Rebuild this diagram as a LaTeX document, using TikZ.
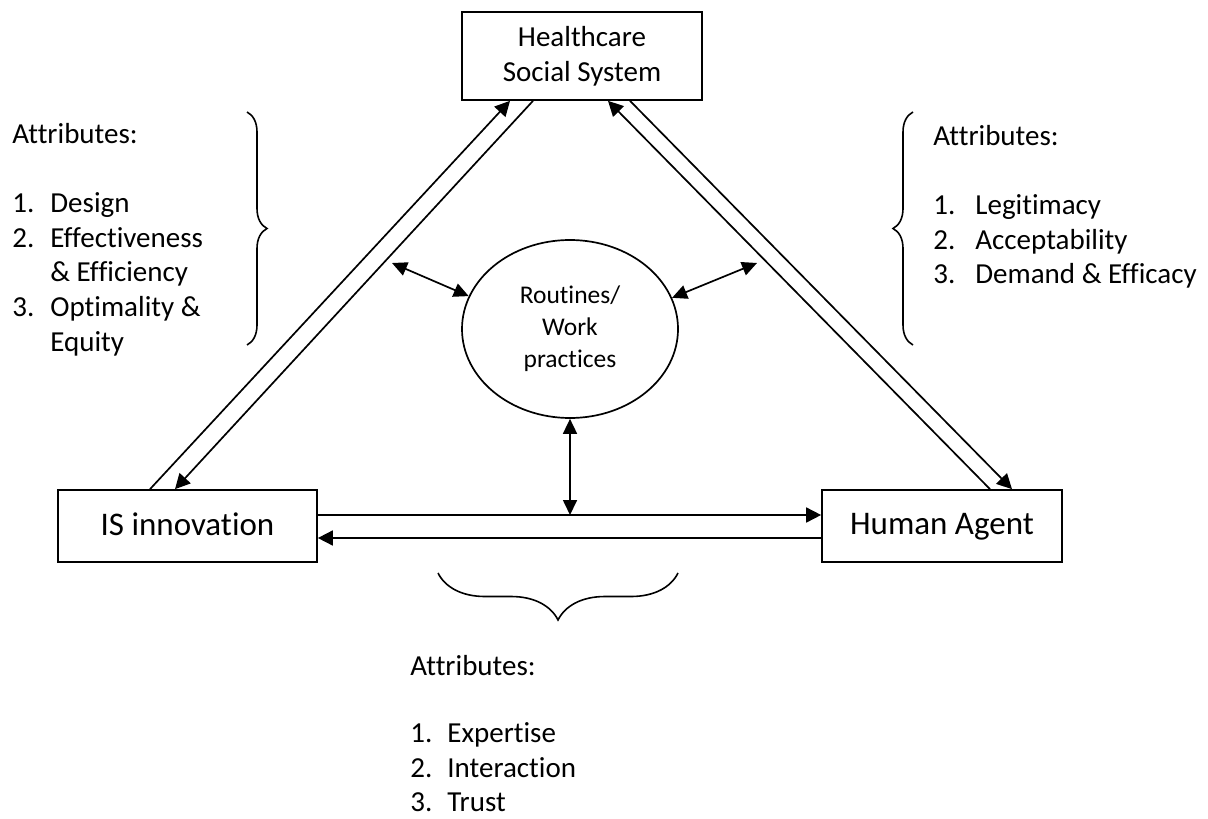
\documentclass[tikz,border=0pt]{standalone}
\usepackage{fontspec}
\setmainfont{Carlito}[Ligatures=NoCommon]
\usetikzlibrary{shapes.geometric,arrows.meta,decorations.pathreplacing}

\newcommand{\itm}[3][19pt]{\makebox[#1][l]{#2}#3}

\begin{document}
\begin{tikzpicture}[x=0.5pt, y=-0.5pt,
  box/.style = {draw, line width=0.85pt, inner sep=0pt, align=center},
  oval/.style = {draw, ellipse, line width=0.85pt, inner sep=0pt, minimum width=108pt, minimum height=89pt, align=center, font=\fontsize{12.75}{16}\selectfont},
  note/.style = {anchor=north west, inner sep=0pt, align=left, font=\fontsize{14.5}{17.3}\selectfont},
  arr/.style = {line width=0.85pt, -{Triangle[length=7.5pt,width=7.5pt]}},
  dbl/.style = {line width=0.85pt, {Triangle[length=7.5pt,width=7pt]}-{Triangle[length=7.5pt,width=7pt]}},
  brc/.style = {decorate, decoration={brace, amplitude=#1}, line width=0.8pt}]
\useasboundingbox (0,0) rectangle (1208,818);

\node[box, minimum width=120pt, minimum height=44pt, font=\fontsize{14.5}{17.5}\selectfont] (hss) at (582,56) {Healthcare\\Social System};
\node[box, minimum width=129.5pt, minimum height=36pt, text depth=2pt, font=\fontsize{16.5}{20}\selectfont] (isi) at (187.5,526) {IS innovation};
\node[box, minimum width=120pt, minimum height=36pt, text depth=2pt, font=\fontsize{16.5}{20}\selectfont] (ha) at (942,526) {Human Agent};
\node[oval] (rw) at (570,329) {Routines/\\Work\\practices};

% attribute lists
\node[note] (lnote) at (12,123) {Attributes:\\[17.3pt]
  \itm{1.}{Design}\\
  \itm{2.}{Effectiveness}\\
  \itm{}{\& Efficiency}\\
  \itm{3.}{Optimality \&}\\
  \itm{}{Equity}};
\node[note] (rnote) at (933,125) {Attributes:\\[17.3pt]
  \itm[21pt]{1.}{Legitimacy}\\
  \itm[21pt]{2.}{Acceptability}\\
  \itm[21pt]{3.}{Demand \& Efficacy}};
\node[note, font=\fontsize{14.5}{17.25}\selectfont] (bnote) at (410,655) {Attributes:\\[16.25pt]
  \itm[18.5pt]{1.}{Expertise}\\
  \itm[18.5pt]{2.}{Interaction}\\
  \itm[18.5pt]{3.}{Trust}};

% braces
\draw[brc=10pt] (247,112) -- (247,345);
\draw[brc=10pt] (913,345) -- (913,112);
\draw[brc=23.5pt] (678,573) -- (438,573);

% triangle sides
\draw[arr] ([xshift=-18.75pt]isi.north) -- ([xshift=-36pt]hss.south);
\draw[arr] ([xshift=-24.5pt]hss.south) -- ([xshift=-6.25pt]isi.north);
\draw[arr] ([xshift=24pt]ha.north) -- ([xshift=13pt]hss.south);
\draw[arr] ([xshift=24pt]hss.south) -- ([xshift=35pt]ha.north);
\draw[arr] ([yshift=5.5pt]isi.east) -- ([yshift=5.5pt]ha.west);
\draw[arr] ([yshift=-6pt]ha.west) -- ([yshift=-6pt]isi.east);

% links to the routines
\coordinate (lp) at (392,263);
\coordinate (rp) at (757,263);
\coordinate (up) at ([yshift=5.5pt]isi.east);
\draw[dbl] (lp) -- (rw.162);
\draw[dbl] (rp) -- (rw.17);
\draw[dbl] (rw.south) -- (up -| rw.south);
\end{tikzpicture}
\end{document}
